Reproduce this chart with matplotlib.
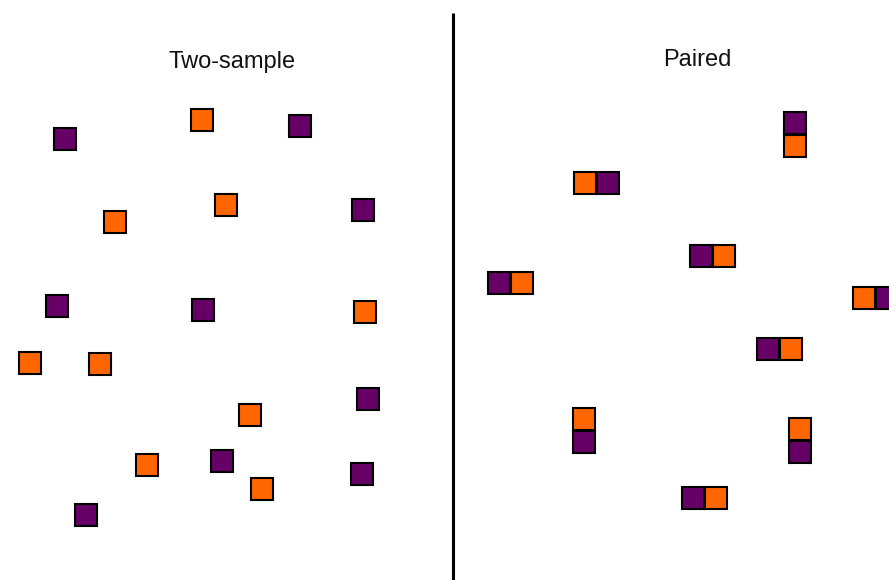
import matplotlib
matplotlib.use("Agg")
import matplotlib.pyplot as plt
from matplotlib.patches import Rectangle

# two-sample panel: independent squares (centre x, centre y in pixels)
two_purple_x = [65, 300, 363, 57, 203, 368, 222, 362, 86]
two_purple_y = [139, 126, 210, 306, 310, 399, 461, 474, 515]
two_orange_x = [202, 115, 226, 365, 30, 100, 250, 147, 262]
two_orange_y = [120, 222, 205, 312, 363, 364, 415, 465, 489]

# paired panel: each purple square sits next to its orange partner
pair_purple_x = [795, 608, 701, 499, 887, 768, 584, 800, 693]
pair_purple_y = [123, 183, 256, 283, 298, 349, 442, 452, 498]
pair_orange_x = [795, 585, 724, 522, 864, 791, 584, 800, 716]
pair_orange_y = [146, 183, 256, 283, 298, 349, 419, 429, 498]

titles = ["Two-sample", "Paired"]

PURPLE = "#660066"
ORANGE = "#ff6600"
SIDE = 22


def draw_squares(ax, xs, ys, color):
    for x, y in zip(xs, ys):
        ax.add_patch(Rectangle((x - SIDE / 2, y - SIDE / 2), SIDE, SIDE,
                               facecolor=color, edgecolor="black", linewidth=1.5))


fig = plt.figure(figsize=(8.89, 5.80), dpi=100)
ax = fig.add_axes([0, 0, 1, 1])
ax.set_xlim(0, 889)
ax.set_ylim(580, 0)
ax.axis("off")

draw_squares(ax, two_purple_x, two_purple_y, PURPLE)
draw_squares(ax, two_orange_x, two_orange_y, ORANGE)
draw_squares(ax, pair_purple_x, pair_purple_y, PURPLE)
draw_squares(ax, pair_orange_x, pair_orange_y, ORANGE)

# divider between the two panels
ax.plot([453, 453], [13, 580], color="black", linewidth=2.2, solid_capstyle="butt")

ax.text(232, 68, titles[0], ha="center", va="baseline", fontsize=17,
        family=["Liberation Sans", "DejaVu Sans"], color="#111111")
ax.text(697, 66, titles[1], ha="center", va="baseline", fontsize=17,
        family=["Liberation Sans", "DejaVu Sans"], color="#111111")

fig.savefig("out.png", dpi=100)
